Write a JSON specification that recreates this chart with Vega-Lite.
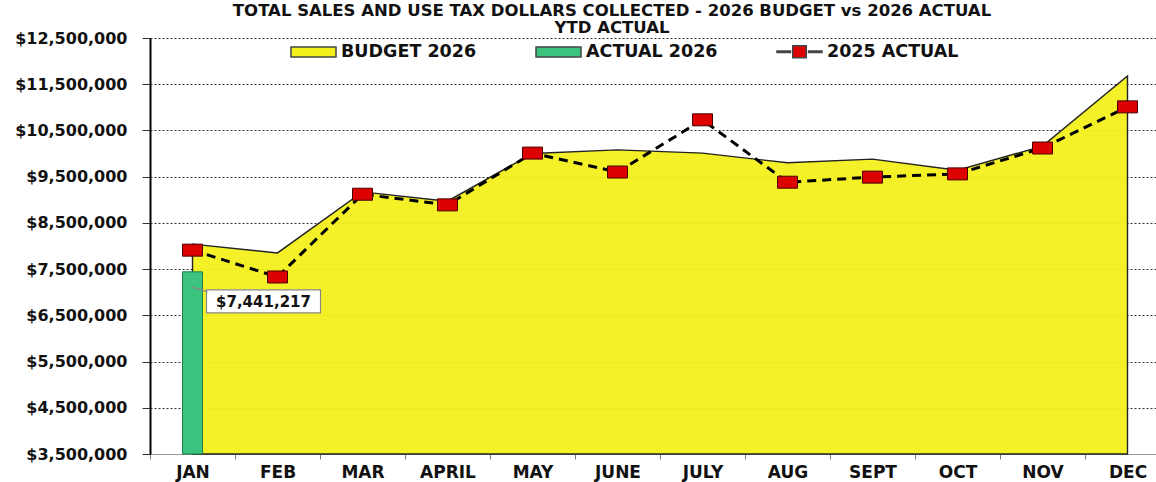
{
  "$schema": "https://vega.github.io/schema/vega-lite/v6.json",
  "width": 1006,
  "height": 416,
  "autosize": {"type": "none"},
  "padding": {"left": 150, "top": 38, "right": 0, "bottom": 28},
  "background": "white",
  "config": {"view": {"stroke": null}},
  "title": {
    "text": ["TOTAL SALES AND USE TAX DOLLARS COLLECTED - 2026 BUDGET vs 2026 ACTUAL", "YTD ACTUAL"],
    "font": "DejaVu Sans",
    "fontSize": 16.5,
    "fontWeight": "bold",
    "color": "#111",
    "anchor": "middle",
    "frame": "group",
    "dx": -41,
    "dy": 10,
    "offset": 2,
    "lineHeight": 17
  },
  "data": {
    "values": [
      {"month": "JAN", "budget": 8040000, "a2025": 7910000, "a2026": 7441217},
      {"month": "FEB", "budget": 7850000, "a2025": 7330000, "a2026": null},
      {"month": "MAR", "budget": 9170000, "a2025": 9120000, "a2026": null},
      {"month": "APRIL", "budget": 8970000, "a2025": 8890000, "a2026": null},
      {"month": "MAY", "budget": 10000000, "a2025": 10010000, "a2026": null},
      {"month": "JUNE", "budget": 10080000, "a2025": 9600000, "a2026": null},
      {"month": "JULY", "budget": 10010000, "a2025": 10730000, "a2026": null},
      {"month": "AUG", "budget": 9800000, "a2025": 9380000, "a2026": null},
      {"month": "SEPT", "budget": 9880000, "a2025": 9490000, "a2026": null},
      {"month": "OCT", "budget": 9640000, "a2025": 9560000, "a2026": null},
      {"month": "NOV", "budget": 10160000, "a2025": 10120000, "a2026": null},
      {"month": "DEC", "budget": 11680000, "a2025": 11010000, "a2026": null}
    ]
  },
  "encoding": {
    "x": {
      "field": "month",
      "type": "ordinal",
      "sort": ["JAN", "FEB", "MAR", "APRIL", "MAY", "JUNE", "JULY", "AUG", "SEPT", "OCT", "NOV", "DEC"],
      "scale": {"type": "band", "range": [0, 1020], "paddingInner": 0, "paddingOuter": 0},
      "axis": {
        "title": null,
        "labelAngle": 0,
        "tickBand": "extent",
        "labelFont": "DejaVu Sans",
        "labelFontWeight": "bold",
        "labelFontSize": 17,
        "labelColor": "#111",
        "domainColor": "#999",
        "tickColor": "#777",
        "tickSize": 5,
        "labelPadding": 5,
        "grid": false
      }
    }
  },
  "layer": [
    {
      "mark": {"type": "area", "fill": "#F3F01C", "stroke": "#222", "strokeWidth": 1.4, "fillOpacity": 0.94},
      "encoding": {
        "x": {"field": "month", "type": "ordinal", "sort": ["JAN", "FEB", "MAR", "APRIL", "MAY", "JUNE", "JULY", "AUG", "SEPT", "OCT", "NOV", "DEC"], "bandPosition": 0.5},
        "y": {
          "field": "budget",
          "type": "quantitative",
          "scale": {"domain": [3500000, 12500000], "zero": false, "nice": false},
          "axis": {
            "title": null,
            "values": [3500000, 4500000, 5500000, 6500000, 7500000, 8500000, 9500000, 10500000, 11500000, 12500000],
            "format": "$,.0f",
            "labelFont": "DejaVu Sans",
            "labelFontWeight": "bold",
            "labelFontSize": 16,
            "labelColor": "#111",
            "domainColor": "#000",
            "domainWidth": 2,
            "tickColor": "#333",
            "tickSize": 8,
            "labelPadding": 15,
            "grid": true,
            "gridColor": "#333",
            "gridDash": [2, 2],
            "gridWidth": 1
          }
        },
        "y2": {"datum": 3500000}
      }
    },
    {
      "transform": [{"filter": "datum.a2026 != null"}],
      "mark": {"type": "bar", "width": 20, "fill": "#3CC47E", "stroke": "#1B7F4A", "strokeWidth": 1},
      "encoding": {
        "y": {"field": "a2026", "type": "quantitative"},
        "y2": {"datum": 3500000}
      }
    },
    {
      "mark": {"type": "line", "color": "#000", "strokeWidth": 3, "strokeDash": [9, 6]},
      "encoding": {
        "x": {"field": "month", "type": "ordinal", "sort": ["JAN", "FEB", "MAR", "APRIL", "MAY", "JUNE", "JULY", "AUG", "SEPT", "OCT", "NOV", "DEC"], "bandPosition": 0.5},
        "y": {"field": "a2025", "type": "quantitative"}
      }
    },
    {
      "mark": {"type": "point", "filled": true, "fill": "#DD0000", "opacity": 1, "size": 400, "shape": "M-1,-0.6H1V0.6H-1Z", "stroke": "#4a0000", "strokeWidth": 1},
      "encoding": {
        "y": {"field": "a2025", "type": "quantitative"}
      }
    },
    {
      "mark": {"type": "point", "filled": true, "opacity": 0, "stroke": "#444", "strokeWidth": 1},
      "encoding": {
        "y": {"field": "a2025", "type": "quantitative"},
        "color": {
          "datum": "2025 ACTUAL",
          "type": "nominal",
          "scale": {"domain": ["BUDGET 2026", "ACTUAL 2026", "2025 ACTUAL"], "range": ["#F3F01C", "#3CC47E", "#DD0000"]},
          "legend": {
            "orient": "none",
            "legendX": 140,
            "legendY": -10,
            "direction": "horizontal",
            "title": null,
            "labelFont": "DejaVu Sans",
            "labelFontWeight": "bold",
            "labelFontSize": 17.5,
            "labelColor": "#111",
            "symbolSize": 2025,
            "symbolOpacity": 1,
            "columnPadding": 56,
            "labelOffset": 4
          }
        },
        "shape": {
          "datum": "2025 ACTUAL",
          "type": "nominal",
          "scale": {"domain": ["BUDGET 2026", "ACTUAL 2026", "2025 ACTUAL"], "range": ["M-1,-0.22H1V0.22H-1Z", "M-1,-0.22H1V0.22H-1Z", "M-1,-0.03H-0.4V0.03H-1Z M0.4,-0.03H1V0.03H0.4Z M-0.3,-0.27H0.3V0.27H-0.3Z"]},
          "legend": {
            "orient": "none",
            "legendX": 140,
            "legendY": -10,
            "direction": "horizontal",
            "title": null,
            "labelFont": "DejaVu Sans",
            "labelFontWeight": "bold",
            "labelFontSize": 17.5,
            "labelColor": "#111",
            "symbolSize": 2025,
            "symbolOpacity": 1,
            "columnPadding": 56,
            "labelOffset": 4
          }
        }
      }
    },
    {
      "transform": [{"filter": "datum.a2026 != null"}],
      "mark": {"type": "point", "filled": true, "fill": "white", "opacity": 1, "size": 10000, "shape": "M0.28,0.36H2.56V0.82H0.28Z M-0.02,0.3L0.3,0.4", "stroke": "#888", "strokeWidth": 1.2},
      "encoding": {
        "y": {"field": "a2026", "type": "quantitative"}
      }
    },
    {
      "transform": [{"filter": "datum.a2026 != null"}],
      "mark": {"type": "text", "dx": 71, "dy": 30, "font": "DejaVu Sans", "fontWeight": "bold", "fontSize": 15, "align": "center", "baseline": "middle", "color": "#111"},
      "encoding": {
        "y": {"field": "a2026", "type": "quantitative"},
        "text": {"field": "a2026", "type": "quantitative", "format": "$,.0f"}
      }
    }
  ]
}
